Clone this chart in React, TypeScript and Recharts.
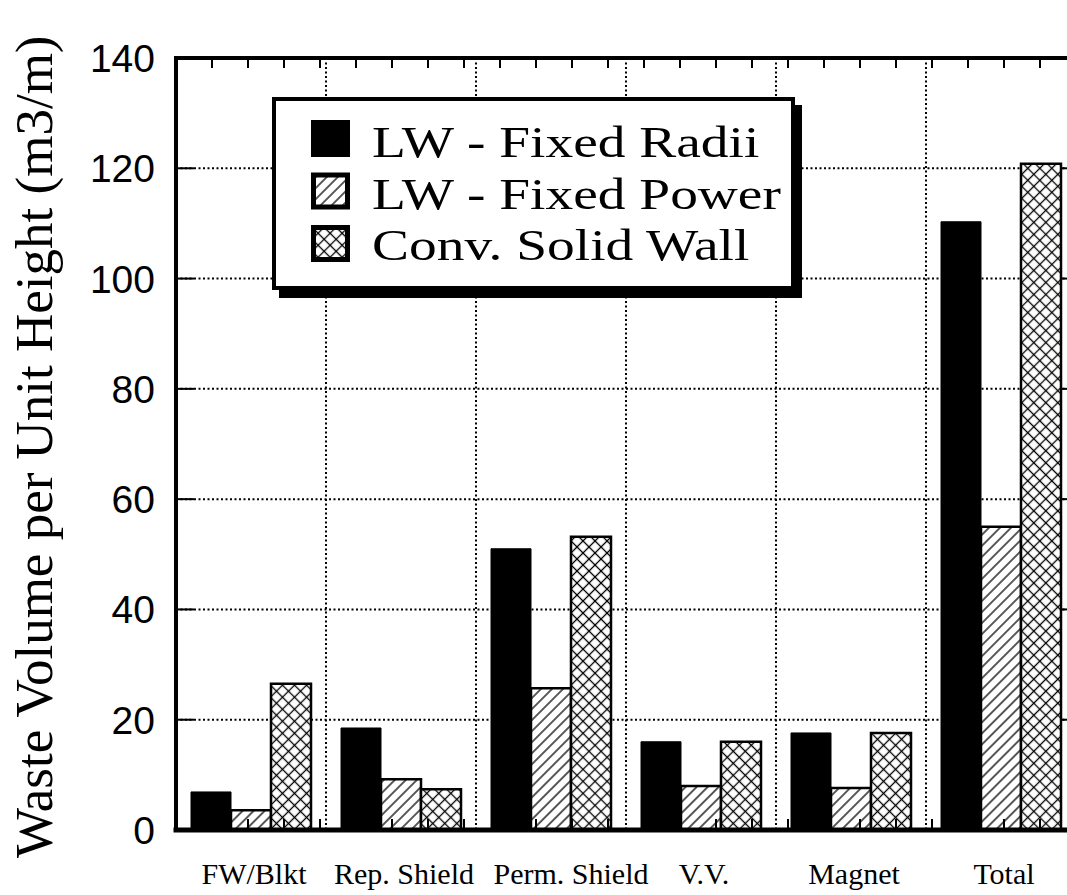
import React from "react";
import { BarChart, Bar, XAxis, YAxis, CartesianGrid, Legend } from "recharts";

// ---- data ----
const categories = ["FW/Blkt", "Rep. Shield", "Perm. Shield", "V.V.", "Magnet", "Total"];
const fixedRadii = [6.9, 18.5, 51.0, 16.0, 17.6, 110.3];
const fixedPower = [3.6, 9.2, 25.7, 8.0, 7.6, 55.0];
const convSolidWall = [26.5, 7.4, 53.2, 16.0, 17.6, 120.8];
const seriesNames = ["LW - Fixed Radii", "LW - Fixed Power", "Conv. Solid Wall"];
const yTicks = [0, 20, 40, 60, 80, 100, 120, 140];
const yLabel = "Waste Volume per Unit Height (m3/m)";
// minor frame ticks: five per category band
const frameTicks = Array.from({ length: 31 }, (_, i) => i / 5);

const rows = categories.map((c, i) => ({
  name: c,
  radii: fixedRadii[i],
  power: fixedPower[i],
  conv: convSolidWall[i],
}));

// ---- layout ----
const CHART_W = 1100;
const CHART_H = 895;
const M_TOP = 58;
const M_RIGHT = 24;
const Y_AXIS_W = 176;
const X_AXIS_H = 65;
const PLOT_W = CHART_W - M_RIGHT - Y_AXIS_W;
const PLOT_H = CHART_H - M_TOP - X_AXIS_H;
const Y_TICK_MARGIN = 21;

const SERIF = "'Liberation Serif', 'Times New Roman', serif";
const SANS = "'Liberation Sans', Arial, sans-serif";

const Patterns = ({ prefix }: { prefix: string }) => (
  <defs>
    <pattern id={`${prefix}diag`} width={7.8} height={7.8} patternUnits="userSpaceOnUse" patternTransform="rotate(45)">
      <rect width={7.8} height={7.8} fill="#fff" />
      <line x1={3.9} y1={0} x2={3.9} y2={7.8} stroke="#000" strokeWidth={1.3} />
    </pattern>
    <pattern id={`${prefix}cross`} width={8.5} height={8.5} patternUnits="userSpaceOnUse" patternTransform="rotate(45)">
      <rect width={8.5} height={8.5} fill="#fff" />
      <line x1={4.25} y1={0} x2={4.25} y2={8.5} stroke="#000" strokeWidth={1.3} />
      <line x1={0} y1={4.25} x2={8.5} y2={4.25} stroke="#000" strokeWidth={1.3} />
    </pattern>
  </defs>
);

const legendFills = ["#000", "url(#lg-diag)", "url(#lg-cross)"];

const LegendBox = () => (
  <div
    style={{
      position: "absolute",
      left: 272,
      top: 97,
      width: 523,
      height: 193,
      boxSizing: "border-box",
      border: "4px solid #000",
      background: "#fff",
      boxShadow: "7px 8px 0 #000",
    }}
  >
    <svg width={515} height={185} style={{ display: "block" }}>
      <Patterns prefix="lg-" />
      {seriesNames.map((n, i) => {
        const top = 19 + i * 52.5;
        return (
          <g key={n}>
            {i === 0 ? (
              <rect x={35} y={top} width={39} height={37} fill="#000" />
            ) : (
              <rect x={37.5} y={top + 2.5} width={34} height={32} fill={legendFills[i]} stroke="#000" strokeWidth={5} />
            )}
            <text
              transform={`translate(96 ${56 + i * 51.5}) scale(1.26 1)`}
              x={0}
              y={0}
              fontFamily={SERIF}
              fontSize={44}
              fill="#000"
            >
              {n}
            </text>
          </g>
        );
      })}
    </svg>
  </div>
);

const XTick = (props: any) => {
  const { x, y, payload } = props;
  const nudge = payload.value === "Perm. Shield" ? 20 : 3;
  return (
    <text x={x + nudge} y={y + 54} textAnchor="middle" fontFamily={SERIF} fontSize={30} fill="#000">
      {payload.value}
    </text>
  );
};

// y tick label plus inward frame ticks on the left and right edges
const YTick = (props: any) => {
  const { x, y, payload } = props;
  const axisX = x + Y_TICK_MARGIN;
  return (
    <g>
      <line x1={axisX} y1={y} x2={axisX + 18} y2={y} stroke="#000" strokeWidth={2} />
      <line x1={axisX + PLOT_W - 16} y1={y} x2={axisX + PLOT_W} y2={y} stroke="#000" strokeWidth={2} />
      <text x={x} y={y} dy="0.36em" textAnchor="end" fontFamily={SANS} fontSize={39} fill="#000">
        {payload.value}
      </text>
    </g>
  );
};

// inward minor ticks on the top and bottom frame edges
const FrameTick = (props: any) => {
  const { x, y } = props;
  if (!Number.isFinite(x) || !Number.isFinite(y)) return <g />;
  return (
    <g>
      <line x1={x} y1={y} x2={x} y2={y + 10} stroke="#000" strokeWidth={2} />
      <line x1={x} y1={y + PLOT_H} x2={x} y2={y + PLOT_H - 11} stroke="#000" strokeWidth={2} />
    </g>
  );
};

const frameLine = { stroke: "#000", strokeWidth: 4, strokeLinecap: "square" as const };

export default function App() {
  return (
    <div
      style={{
        position: "absolute",
        left: 0,
        top: 0,
        width: 1067,
        height: 895,
        overflow: "hidden",
        background: "#fff",
      }}
    >
      <BarChart
        width={CHART_W}
        height={CHART_H}
        data={rows}
        margin={{ top: M_TOP, right: M_RIGHT, left: 0, bottom: 0 }}
        barCategoryGap="10%"
        barGap={0}
      >
        <Patterns prefix="" />
        <CartesianGrid
          stroke="#000"
          strokeWidth={2}
          strokeDasharray="2 2.5"
          verticalCoordinatesGenerator={({ offset }: any) =>
            categories.slice(1).map((_, i) => offset.left + ((i + 1) * offset.width) / categories.length)
          }
        />
        <Bar dataKey="radii" name={seriesNames[0]} fill="#000" stroke="#000" strokeWidth={1} isAnimationActive={false} />
        <Bar dataKey="power" name={seriesNames[1]} fill="url(#diag)" stroke="#000" strokeWidth={2.5} isAnimationActive={false} />
        <Bar dataKey="conv" name={seriesNames[2]} fill="url(#cross)" stroke="#000" strokeWidth={2.5} isAnimationActive={false} />
        <XAxis
          dataKey="name"
          height={X_AXIS_H}
          interval={0}
          tickLine={false}
          tickSize={0}
          tickMargin={0}
          tick={<XTick />}
          axisLine={{ stroke: "#000", strokeWidth: 5, strokeLinecap: "square" }}
        />
        <XAxis
          xAxisId="top"
          orientation="top"
          type="number"
          domain={[0, 6]}
          allowDataOverflow
          ticks={frameTicks}
          interval={0}
          mirror
          height={8}
          tickSize={0}
          tickMargin={0}
          tickLine={false}
          tick={<FrameTick />}
          axisLine={frameLine}
        />
        <YAxis
          width={Y_AXIS_W}
          domain={[0, 140]}
          ticks={yTicks}
          interval={0}
          tickLine={false}
          tickSize={0}
          tickMargin={Y_TICK_MARGIN}
          tick={<YTick />}
          axisLine={frameLine}
        />
        <Legend
          layout="horizontal"
          verticalAlign="middle"
          align="center"
          wrapperStyle={{ left: 0, top: 0, width: 0, height: 0 }}
          content={<LegendBox />}
        />
        <text transform="translate(52,858) rotate(-90)" fontFamily={SERIF} fontSize={53} fill="#000">
          {yLabel}
        </text>
      </BarChart>
    </div>
  );
}
